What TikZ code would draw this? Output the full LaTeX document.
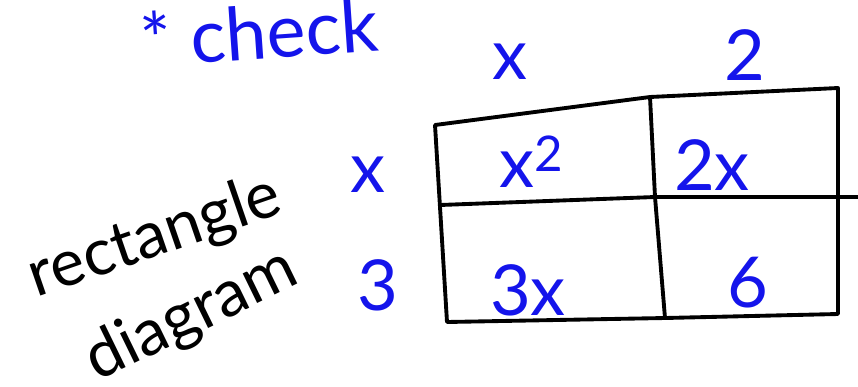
\documentclass[tikz,border=0pt]{standalone}
\usepackage{fontspec}
\setmainfont{Lato}
\usepackage{tikz}
\usetikzlibrary{positioning,calc}
\definecolor{penBlue}{RGB}{20, 20, 235}

\begin{document}
\begin{tikzpicture}[x=0.02cm,y=-0.02cm,
    gridline/.style={line width=2.2pt,line cap=round,line join=round},
    bluetext/.style={text=penBlue,font=\fontsize{40}{44}\selectfont,inner sep=0pt},
    inktext/.style={text=black,font=\fontsize{37}{40}\selectfont,inner sep=0pt}]
    \useasboundingbox (0,0) rectangle (858,386);
    % corners of the rectangle diagram
    \coordinate (tl) at (435,125);
    \coordinate (tm) at (650,97);
    \coordinate (tr) at (838,88);
    \coordinate (ml) at (440,205);
    \coordinate (mm) at (655,197);
    \coordinate (mr) at (858,197);
    \coordinate (bl) at (447,322);
    \coordinate (bm) at (665,318);
    \coordinate (br) at (838,314);
    \draw[gridline] (tl) -- (tm) -- (tr) -- (br) -- (bm) -- (bl) -- cycle;
    \draw[gridline] (ml) -- (mm) -- (mr);
    \draw[gridline] (tm) -- (mm) -- (bm);
    % labels
    \node[bluetext,anchor=west,font=\fontsize{42}{46}\selectfont,rotate=4] (check) at (140,40) {* check};
    \node[bluetext] (topx) at (510,62) {x};
    \node[bluetext] (top2) at (745,55) {2};
    \node[bluetext] (leftx) at (368,175) {x};
    \node[bluetext] (left3) at (378,285) {3};
    % cells
    \node[bluetext] (xsq) at (532,162) {x\textsuperscript{2}};
    \node[bluetext] (twox) at (712,165) {2x};
    \node[bluetext] (threex) at (528,290) {3x};
    \node[bluetext] (six) at (748,283) {6};
    % side note
    \node[inktext,rotate=19] (rect) at (155,238) {rectangle};
    \node[inktext,rotate=26] (diag) at (192,316) {diagram};
\end{tikzpicture}
\end{document}
